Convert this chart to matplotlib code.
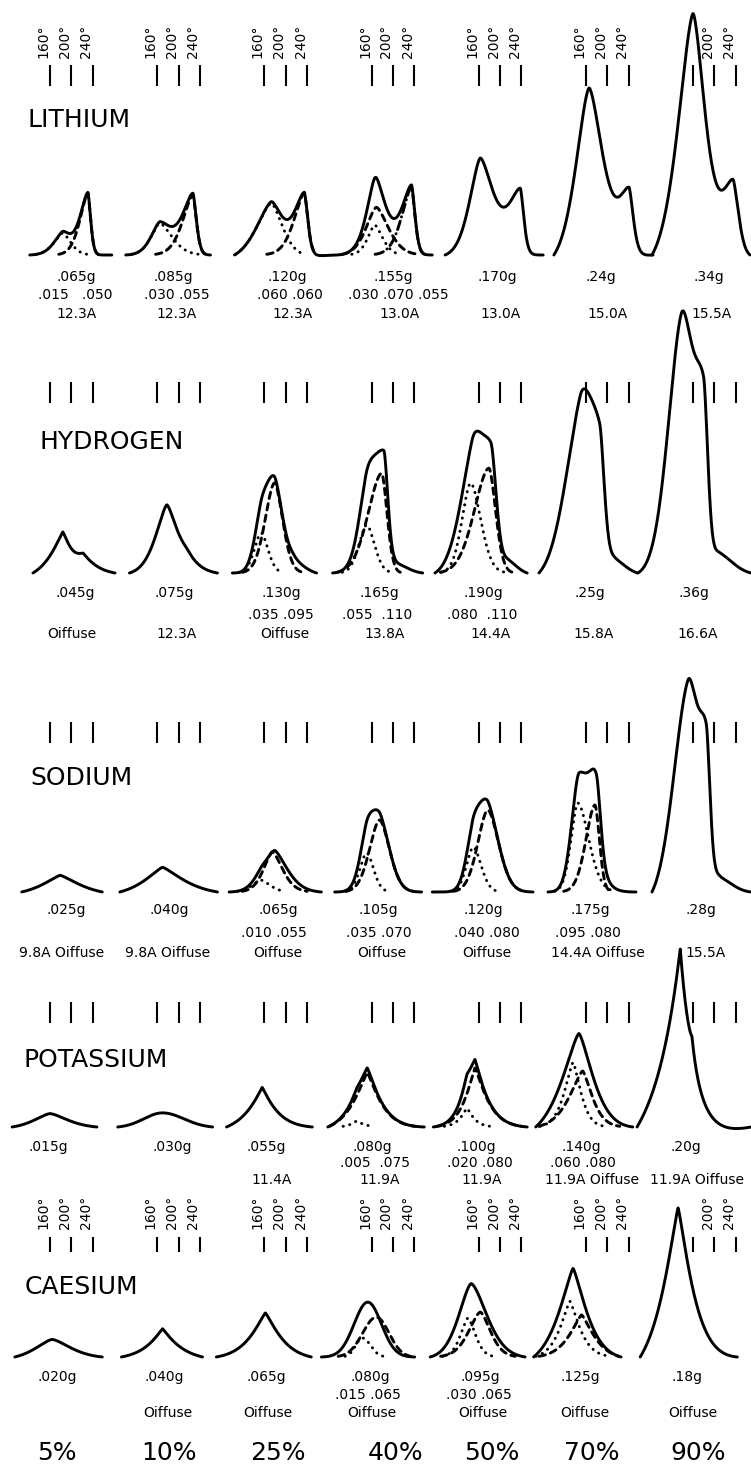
import numpy as np
import matplotlib
matplotlib.use("Agg")
import matplotlib.pyplot as plt

plt.rcParams['font.family'] = ['DejaVu Sans']

# ------------------------------------------------------------------ data
ELEMENTS = ["LITHIUM", "HYDROGEN", "SODIUM", "POTASSIUM", "CAESIUM"]
PERCENTS = ["5%", "10%", "25%", "40%", "50%", "70%", "90%"]
ANGLES = [160, 200, 240]

LI_WEIGHT = [".065g", ".085g", ".120g", ".155g", ".170g", ".24g", ".34g"]
LI_PARTS = [".015   .050", ".030 .055", ".060 .060", ".030 .070 .055", "", "", ""]
LI_NOTE = ["12.3A", "12.3A", "12.3A", "13.0A", "13.0A", "15.0A", "15.5A"]
H_WEIGHT = [".045g", ".075g", ".130g", ".165g", ".190g", ".25g", ".36g"]
H_PARTS = ["", "", ".035 .095", ".055  .110", ".080  .110", "", ""]
H_NOTE = ["Oiffuse", "12.3A", "Oiffuse", "13.8A", "14.4A", "15.8A", "16.6A"]
NA_WEIGHT = [".025g", ".040g", ".065g", ".105g", ".120g", ".175g", ".28g"]
NA_PARTS = ["", "", ".010 .055", ".035 .070", ".040 .080", ".095 .080", ""]
NA_NOTE = ["9.8A Oiffuse", "9.8A Oiffuse", "Oiffuse", "Oiffuse", "Oiffuse",
           "14.4A Oiffuse", "15.5A"]
K_WEIGHT = [".015g", ".030g", ".055g", ".080g", ".100g", ".140g", ".20g"]
K_PARTS = ["", "", "", ".005  .075", ".020 .080", ".060 .080", ""]
K_NOTE = ["", "", "11.4A", "11.9A", "11.9A", "11.9A Oiffuse", "11.9A Oiffuse"]
CS_WEIGHT = [".020g", ".040g", ".065g", ".080g", ".095g", ".125g", ".18g"]
CS_PARTS = ["", "", "", ".015 .065", ".030 .065", "", ""]
CS_NOTE = ["", "Oiffuse", "Oiffuse", "Oiffuse", "Oiffuse", "Oiffuse", "Oiffuse"]

# scan range of each trace (degrees)
LI_RANGE = [(122, 276), (101, 260), (104, 295), (96, 274), (97, 281), (100, 286), (83, 267)]
H_RANGE = [(128, 282), (108, 273), (100, 258), (87, 256), (78, 251), (72, 257), (57, 269)]
NA_RANGE = [(107, 258), (90, 273), (94, 267), (91, 254), (73, 262), (89, 254), (83, 269)]
K_RANGE = [(89, 248), (86, 264), (89, 250), (78, 259), (75, 251), (66, 248), (55, 269)]
CS_RANGE = [(94, 258), (93, 245), (70, 248), (66, 241), (69, 247), (62, 226), (61, 243)]

# peaks of the full traces: (position deg, height, half width left, half width right)
LI_TRACE = [
    [(184, 22, 19, 17), (231, 62, 17, 6)],
    [(165, 32, 19, 26), (227, 60, 22, 7.5)],
    [(173, 55, 32, 24), (235, 62, 22, 7.5)],
    [(166, 30, 15, 17), (169, 48, 22, 26), (235, 68, 21, 7.5)],
    [(163, 97, 23, 28), (238, 64, 26, 7.5)],
    [(166, 174, 28, 30), (241, 62, 22, 9)],
    [(160, 250, 32, 26), (235, 75, 25, 12)],
]
H_TRACE = [
    [(184, 43, 26, 16), (222, 19, 20, 28)],
    [(178, 68, 24, 22), (215, 12, 20, 28)],
    [(154, 40, 15, 15), (179, 90, 20.5, 18), (215, 12, 15, 25)],
    [(151, 50, 17, 17), (183, 115, 30, 9), (205, 10, 15, 25)],
    [(148, 95, 30, 20), (183, 118, 28, 12), (215, 14, 15, 20)],
    [(150, 155, 35, 25), (186, 112, 25, 10), (215, 15, 15, 25)],
    [(139, 252, 30, 25), (180, 150, 20, 9), (210, 20, 15, 30)],
]
NA_TRACE = [
    [(179, 21, 38, 42)],
    [(170, 29, 38, 45)],
    [(154, 12, 19, 19), (180, 38, 20, 28)],
    [(151, 39, 15, 15), (175, 72, 22, 22)],
    [(150, 45, 15, 17), (177, 82, 22, 24)],
    [(147, 115, 16, 28), (180, 72, 15, 9)],
    [(151, 214, 32, 22), (185, 125, 16, 8), (210, 18, 15, 30)],
]
K_TRACE = [
    [(160, 15, 34, 38)],
    [(170, 15, 41, 47)],
    [(156, 44, 26, 24)],
    [(132, 6, 10, 12), (152, 61, 26, 24)],
    [(138, 19, 12, 12), (153, 61, 18, 22)],
    [(147, 101, 36, 30)],
    [(136, 199, 32, 19), (158, 20, 6, 6)],
]
CS_TRACE = [
    [(164, 20, 36, 40)],
    [(170, 32, 26, 28)],
    [(162, 47, 28, 28)],
    [(153, 55, 30, 30)],
    [(146, 75, 27, 34)],
    [(136, 96, 30, 28)],
    [(132, 165, 30, 27)],
]

# resolved components (drawn broken)
LI_COMPONENTS = [
    [(184, 22, 19, 17), (231, 62, 17, 6)],
    [(165, 32, 19, 26), (227, 60, 22, 7.5)],
    [(173, 55, 32, 24), (235, 62, 22, 7.5)],
    [(166, 30, 15, 17), (169, 48, 22, 26), (235, 68, 21, 7.5)],
    [], [], [],
]
H_COMPONENTS = [
    [], [],
    [(154, 40, 15, 15), (179, 90, 20.5, 18)],
    [(151, 48, 17, 17), (179, 100, 30, 12)],
    [(145, 90, 19, 22), (179, 105, 32, 15)],
    [], [],
]
NA_COMPONENTS = [
    [], [],
    [(154, 12, 19, 19), (175, 40, 19, 22)],
    [(151, 39, 15, 15), (175, 72, 22, 22)],
    [(150, 45, 15, 17), (177, 82, 22, 24)],
    [(145, 89, 15, 24), (177, 87, 20, 10)],
    [],
]
K_COMPONENTS = [
    [], [], [],
    [(132, 6, 10, 12), (152, 58, 26, 24)],
    [(138, 19, 12, 12), (153, 60, 18, 22)],
    [(136, 65, 18, 16), (154, 57, 28, 20)],
    [],
]
CS_COMPONENTS = [
    [], [], [],
    [(143, 19, 15, 18), (169, 40, 30, 28)],
    [(140, 39, 16, 16), (163, 45, 25, 22)],
    [(130, 57, 20, 20), (152, 44, 25, 25)],
    [],
]

# ------------------------------------------------------------------ layout / style
FIG_W, FIG_H = 751, 1465
COL_PITCH = 107.17
TICK0_PX = 50.0
PX_PER_DEG = 0.5333
D0 = 160 - TICK0_PX / PX_PER_DEG
AX_H = 100.0

BASE_PX = [255, 573, 892, 1127, 1357]
TICK_PX = [(65, 86), (382, 403), (722, 743), (1002, 1023), (1237, 1252)]
TICKLABEL_BOTTOM_PX = {0: 58, 4: 1229}
TICKLABEL_HIDE = {(0, 6, 160), (4, 6, 160)}
TEXT_Y_PX = [(277, 295, 314), (593, 615, 634), (910, 933, 953),
             (1147, 1163, 1180), (1377, 1395, 1413)]
TEXT_DX = [  # px offset from 160 deg tick: weight, parts, note
    ([26, 16, 23, 22, 18.5, 15, 16], [25, 19.5, 26, 27, 0, 0, 0], [27, 19.5, 28, 28, 21.5, 22, 19]),
    ([25, 17.5, 17, 8, 4.5, 4, 1], [0, 0, 17, 6, 3.5, 0, 0], [22, 19.5, 20, 13, 11.5, 8, 5]),
    ([16, 12.5, 14, 7, 4.5, 4, 8], [0, 0, 10, 7, 8.5, 2, 0], [12, 10.5, 13, 10, 8.5, 12, 13]),
    ([-2, 15.5, 2, 1, -2.5, -5, -7], [0, 0, 0, 3, 1.5, -3, 0], [0, 0, 7, 8, 3.5, 6, 4]),
    ([7, 7.5, 2, -1, 1.5, -6, -6], [0, 0, 0, -4, 0.5, 0, 0], [0, 10.5, 3, 0, 4.5, -1, 0]),
]
NAME_POS_PX = [(28, 120), (40, 442), (30, 778), (23, 1060), (25, 1287)]
PCT_X_PX = [57, 169, 278, 396, 492, 592, 698]
PCT_Y_PX = 1453
SHAPE = [
    [1.6] * 7,
    [1.2, 1.5, 1.8, 1.8, 1.8, 1.8, 1.8],
    [1.3, 1.3, 1.6, 1.8, 1.8, 1.8, 1.8],
    [1.5, 2.0, 1.1, 1.2, 1.2, 1.4, 1.0],
    [1.5, 1.1, 1.2, 2.0, 1.6, 1.3, 1.2],
]
COMP_STYLES = [(0, (0.1, 2.2)), (0, (2.2, 1.8)), (0, (3.0, 1.5, 0.1, 1.5))]
LW = 2.1

ROWS = [
    (LI_RANGE, LI_TRACE, LI_COMPONENTS, LI_WEIGHT, LI_PARTS, LI_NOTE),
    (H_RANGE, H_TRACE, H_COMPONENTS, H_WEIGHT, H_PARTS, H_NOTE),
    (NA_RANGE, NA_TRACE, NA_COMPONENTS, NA_WEIGHT, NA_PARTS, NA_NOTE),
    (K_RANGE, K_TRACE, K_COMPONENTS, K_WEIGHT, K_PARTS, K_NOTE),
    (CS_RANGE, CS_TRACE, CS_COMPONENTS, CS_WEIGHT, CS_PARTS, CS_NOTE),
]


def profile(x, peaks, p):
    y = np.zeros_like(x)
    for c, h, wl, wr in peaks:
        d = x - c
        w = np.where(d < 0, wl, wr)
        y += h * np.exp(-np.log(2) * np.abs(d / w) ** p)
    return y


def to_baseline(x, y):
    """Level the trace so it starts and ends on the base line."""
    return y - (y[0] + (y[-1] - y[0]) * (x - x[0]) / (x[-1] - x[0]))


fig = plt.figure(figsize=(FIG_W / 100, FIG_H / 100), dpi=100)
fig.patch.set_facecolor("white")

for r, (rng, traces, comps, weights, parts, notes) in enumerate(ROWS):
    base = BASE_PX[r]
    for c in range(7):
        ax = fig.add_axes([c * COL_PITCH / FIG_W, 1 - base / FIG_H,
                           COL_PITCH / FIG_W, AX_H / FIG_H])
        ax.set_xlim(D0, D0 + COL_PITCH / PX_PER_DEG)
        ax.set_ylim(0, AX_H)
        ax.axis("off")
        ax.patch.set_visible(False)
        p = SHAPE[r][c]

        lo, hi = rng[c]
        x = np.linspace(lo, hi, 600)
        y = to_baseline(x, profile(x, traces[c], p))
        ax.plot(x, y, color="black", lw=LW, clip_on=False,
                solid_capstyle="round", solid_joinstyle="round", zorder=3)
        for k, comp in enumerate(comps[c]):
            yc = to_baseline(x, profile(x, [comp], p))
            m = yc > 0.7
            ax.plot(x[m], yc[m], color="black", lw=LW, linestyle=COMP_STYLES[k % 3],
                    dash_capstyle="round", clip_on=False, zorder=2)

        # reference angle marks
        t_top, t_bot = TICK_PX[r]
        ax.vlines(ANGLES, base - t_bot, base - t_top, color="black", lw=1.5, clip_on=False)
        if r in TICKLABEL_BOTTOM_PX:
            for a in ANGLES:
                if (r, c, a) in TICKLABEL_HIDE:
                    continue
                ax.text(a + 1.0, base - TICKLABEL_BOTTOM_PX[r], f"{a}°", rotation=90,
                        ha="right", va="bottom", fontsize=10, clip_on=False)

        # labels under each trace
        yw, yp, yn = TEXT_Y_PX[r]
        dxw, dxp, dxn = TEXT_DX[r]
        for txt, ypx, dx in ((weights[c], yw, dxw[c]), (parts[c], yp, dxp[c]),
                             (notes[c], yn, dxn[c])):
            if txt:
                ax.text(160 + dx / PX_PER_DEG, base - ypx, txt, ha="center",
                        va="center", fontsize=10, clip_on=False)

for name, (xp, yp) in zip(ELEMENTS, NAME_POS_PX):
    fig.text(xp / FIG_W, 1 - yp / FIG_H, name, ha="left", va="center", fontsize=18)
for pct, xp in zip(PERCENTS, PCT_X_PX):
    fig.text(xp / FIG_W, 1 - PCT_Y_PX / FIG_H, pct, ha="center", va="center", fontsize=18)

fig.savefig("out.png", dpi=100, facecolor="white")
